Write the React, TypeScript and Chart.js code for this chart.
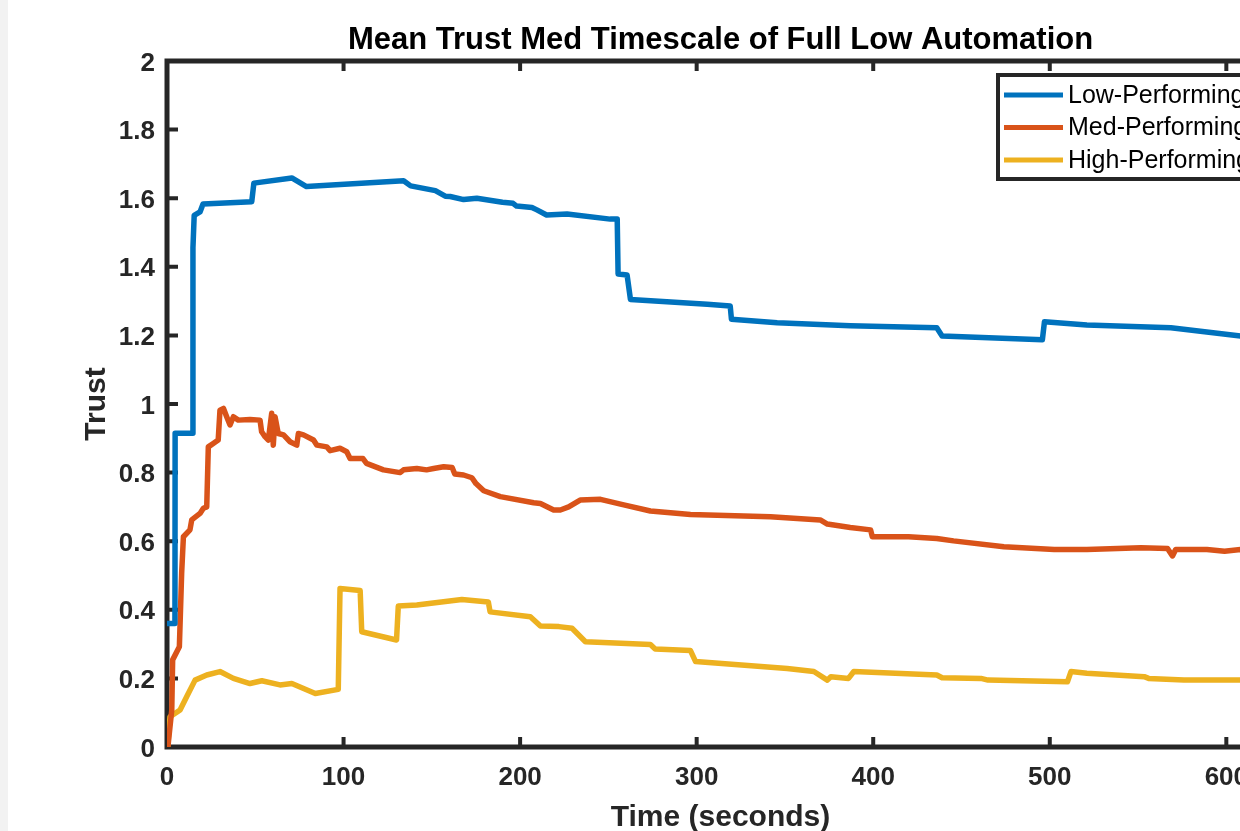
import React, { useEffect, useRef } from 'react';
import { Chart, registerables } from 'chart.js';

Chart.register(...registerables);

// ---- data (time in seconds, trust values) ----
const lowT = [0, 4.5, 4.6, 14.6, 14.7, 15.4, 18.7, 20.4, 48, 49.2, 70.7, 79, 134, 138, 152, 157.6, 160.4, 168, 175.5, 190, 196, 198, 206.7, 209.5, 215, 226.6, 251, 255, 255.5, 260.6, 262.5, 306, 319, 319.7, 345.6, 387, 436, 439, 495.8, 497, 521, 568.6, 608, 627];
const lowY = [0.36, 0.36, 0.915, 0.915, 1.455, 1.55, 1.56, 1.583, 1.59, 1.644, 1.659, 1.634, 1.651, 1.636, 1.622, 1.606, 1.605, 1.596, 1.6, 1.588, 1.585, 1.577, 1.573, 1.566, 1.551, 1.554, 1.539, 1.539, 1.379, 1.376, 1.305, 1.291, 1.286, 1.247, 1.237, 1.228, 1.222, 1.198, 1.187, 1.24, 1.23, 1.222, 1.198, 1.19];

const medT = [0.5, 2.7, 3.2, 7.0, 8.3, 9.3, 13, 14, 18.7, 20.6, 22.5, 23.4, 26.2, 29, 30, 32, 33.8, 35.7, 37.6, 40.4, 47, 52.7, 53.6, 55.5, 57.4, 59.3, 60.2, 61.2, 63, 66, 69.7, 73.5, 74.4, 77.3, 83, 84.9, 90.5, 92.4, 98, 101.8, 103.7, 111, 113, 122.6, 132, 134, 141.5, 147, 151, 156.7, 161.5, 163, 168, 172.7, 175, 179.4, 188.8, 207.7, 211.5, 219, 222.8, 227.5, 234, 245.5, 258.7, 273.8, 296.5, 311.6, 341.8, 370, 374, 387, 398.5, 399.5, 420, 436, 445.5, 474, 502.5, 521, 551.6, 566.7, 569.5, 571.3, 589, 599, 608, 627];
const medY = [0, 0.108, 0.254, 0.292, 0.507, 0.613, 0.633, 0.662, 0.681, 0.696, 0.7, 0.875, 0.885, 0.895, 0.982, 0.987, 0.963, 0.939, 0.963, 0.953, 0.955, 0.953, 0.919, 0.905, 0.895, 0.973, 0.88, 0.963, 0.914, 0.91, 0.89, 0.88, 0.914, 0.91, 0.895, 0.88, 0.875, 0.864, 0.871, 0.861, 0.841, 0.841, 0.827, 0.808, 0.8, 0.808, 0.812, 0.808, 0.812, 0.817, 0.815, 0.796, 0.793, 0.785, 0.768, 0.747, 0.73, 0.712, 0.71, 0.691, 0.691, 0.7, 0.72, 0.722, 0.706, 0.688, 0.678, 0.676, 0.671, 0.662, 0.65, 0.64, 0.633, 0.613, 0.613, 0.608, 0.601, 0.584, 0.576, 0.576, 0.581, 0.579, 0.557, 0.576, 0.576, 0.571, 0.576, 0.575];

const highT = [0.4, 1.7, 7.4, 11.2, 15.9, 22.5, 30, 37.6, 47, 53.7, 64, 70.7, 84, 97, 98, 109.4, 110.3, 130, 131, 141.5, 167, 182, 183, 205.8, 211.5, 222, 229.4, 237, 273.8, 276.5, 296.5, 299.4, 351.3, 366.4, 374, 376, 386, 389, 436, 439, 461, 465, 510, 512, 521, 553.5, 556, 576, 608, 627];
const highY = [0, 0.088, 0.108, 0.147, 0.195, 0.21, 0.22, 0.2, 0.185, 0.193, 0.181, 0.185, 0.156, 0.168, 0.462, 0.456, 0.336, 0.312, 0.411, 0.414, 0.43, 0.423, 0.394, 0.38, 0.353, 0.351, 0.346, 0.307, 0.299, 0.286, 0.281, 0.249, 0.229, 0.22, 0.195, 0.205, 0.2, 0.22, 0.21, 0.202, 0.2, 0.195, 0.19, 0.22, 0.215, 0.205, 0.2, 0.195, 0.195, 0.193];

const seriesLabels = ['Low-Performing', 'Med-Performing', 'High-Performing'];
const seriesColors = ['#0072BD', '#D95319', '#EDB120'];

const xTicks = [0, 100, 200, 300, 400, 500, 600];
const xTickLabels = ['0', '100', '200', '300', '400', '500', '600'];
const yTicks = [0, 0.2, 0.4, 0.6, 0.8, 1, 1.2, 1.4, 1.6, 1.8, 2];
const yTickLabels = ['0', '0.2', '0.4', '0.6', '0.8', '1', '1.2', '1.4', '1.6', '1.8', '2'];

const X_MIN = 0;
const X_MAX = 627;
const Y_MIN = 0;
const Y_MAX = 2;

const FONT = "'Liberation Sans', Arial, Helvetica, sans-serif";
const AXIS_COLOR = '#262626';

const toPoints = (t: number[], y: number[]) => t.map((v, i) => ({ x: v, y: y[i] }));

const matlabAxesPlugin = {
  id: 'matlabAxes',
  beforeDatasetsDraw(chart: any) {
    const { ctx, chartArea: ca, scales } = chart;
    const xs = scales.x;
    const ys = scales.y;
    ctx.save();
    ctx.strokeStyle = AXIS_COLOR;
    ctx.lineCap = 'butt';
    ctx.lineWidth = 4;
    const tl = 10;
    xTicks.forEach((v) => {
      const px = xs.getPixelForValue(v);
      ctx.beginPath();
      ctx.moveTo(px, ca.bottom);
      ctx.lineTo(px, ca.bottom - tl);
      ctx.moveTo(px, ca.top);
      ctx.lineTo(px, ca.top + tl);
      ctx.stroke();
    });
    yTicks.forEach((v) => {
      const py = ys.getPixelForValue(v);
      ctx.beginPath();
      ctx.moveTo(ca.left, py);
      ctx.lineTo(ca.left + tl + 1, py);
      ctx.moveTo(ca.right, py);
      ctx.lineTo(ca.right - tl - 1, py);
      ctx.stroke();
    });
    ctx.lineWidth = 5;
    ctx.lineJoin = 'miter';
    ctx.strokeRect(ca.left, ca.top, ca.right - ca.left, ca.bottom - ca.top);
    ctx.restore();
  },
  afterDatasetsDraw(chart: any) {
    const { ctx, chartArea: ca } = chart;
    const lx = ca.right - 278;
    const ly = ca.top + 12;
    const lw = 262;
    const lh = 108;
    ctx.save();
    ctx.fillStyle = '#ffffff';
    ctx.fillRect(lx, ly, lw, lh);
    ctx.strokeStyle = AXIS_COLOR;
    ctx.lineWidth = 4;
    ctx.strokeRect(lx + 2, ly + 2, lw - 4, lh - 4);
    chart.data.datasets.forEach((ds: any, i: number) => {
      const cy = ly + 22 + i * 32.5;
      ctx.strokeStyle = ds.borderColor;
      ctx.lineWidth = 5;
      ctx.beginPath();
      ctx.moveTo(lx + 8, cy);
      ctx.lineTo(lx + 67, cy);
      ctx.stroke();
      ctx.fillStyle = '#000000';
      ctx.font = `25px ${FONT}`;
      ctx.textBaseline = 'middle';
      ctx.textAlign = 'left';
      ctx.fillText(ds.label, lx + 72, cy + 1);
    });
    ctx.restore();
  },
};

export default function App() {
  const canvasRef = useRef<HTMLCanvasElement | null>(null);

  useEffect(() => {
    if (!canvasRef.current) return;
    const seriesT = [lowT, medT, highT];
    const seriesY = [lowY, medY, highY];
    const chart = new Chart(canvasRef.current, {
      type: 'scatter',
      data: {
        datasets: seriesLabels.map((label, i) => ({
          label,
          data: toPoints(seriesT[i], seriesY[i]),
          showLine: true,
          borderColor: seriesColors[i],
          backgroundColor: seriesColors[i],
          borderWidth: 5.5,
          pointRadius: 0,
          pointHoverRadius: 0,
          tension: 0,
          borderJoinStyle: 'round',
          borderCapStyle: 'round',
        })),
      },
      options: {
        responsive: false,
        animation: false,
        events: [],
        layout: { padding: { left: 0, top: 0, right: 54, bottom: 0 } },
        plugins: {
          legend: { display: false },
          tooltip: { enabled: false },
          title: {
            display: true,
            text: 'Mean Trust Med Timescale of Full Low Automation',
            fullSize: false,
            color: '#000000',
            font: { family: FONT, size: 31, weight: 'bold', lineHeight: 1.2 },
            padding: { top: 22, bottom: 1.8 },
          },
        },
        scales: {
          x: {
            type: 'linear',
            min: X_MIN,
            max: X_MAX,
            grid: { display: false, drawTicks: false },
            border: { display: false },
            afterBuildTicks: (scale: any) => {
              scale.ticks = xTicks.map((v) => ({ value: v }));
            },
            afterFit: (scale: any) => {
              scale.height = 84;
            },
            ticks: {
              padding: 15,
              color: AXIS_COLOR,
              font: { family: FONT, size: 26, weight: 'bold' },
              maxRotation: 0,
              autoSkip: false,
              callback: (_v: any, i: number) => xTickLabels[i],
            },
            title: {
              display: true,
              text: 'Time (seconds)',
              color: AXIS_COLOR,
              font: { family: FONT, size: 30, weight: 'bold', lineHeight: 0.8 },
              padding: { top: 0, bottom: 1 },
            },
          },
          y: {
            type: 'linear',
            min: Y_MIN,
            max: Y_MAX,
            grid: { display: false, drawTicks: false },
            border: { display: false },
            afterBuildTicks: (scale: any) => {
              scale.ticks = yTicks.map((v) => ({ value: v }));
            },
            afterFit: (scale: any) => {
              scale.width = 159;
            },
            ticks: {
              padding: 12,
              labelOffset: 2.5,
              color: AXIS_COLOR,
              font: { family: FONT, size: 26, weight: 'bold' },
              autoSkip: false,
              callback: (_v: any, i: number) => yTickLabels[i],
            },
            title: {
              display: true,
              text: 'Trust',
              color: AXIS_COLOR,
              font: { family: FONT, size: 30, weight: 'bold', lineHeight: 1 },
              padding: { top: 74, bottom: 0 },
            },
          },
        },
      } as any,
      plugins: [matlabAxesPlugin],
    });
    return () => chart.destroy();
  }, []);

  return (
    <>
      <style>{`html,body{margin:0;padding:0;background:#f2f2f2;overflow:hidden;}`}</style>
      <div
        style={{
          marginLeft: 8,
          width: 1232,
          height: 831,
          background: '#ffffff',
          overflow: 'hidden',
          position: 'relative',
        }}
      >
        <canvas
          ref={canvasRef}
          width={1320}
          height={831}
          style={{ display: 'block', width: 1320, height: 831 }}
        />
      </div>
    </>
  );
}
